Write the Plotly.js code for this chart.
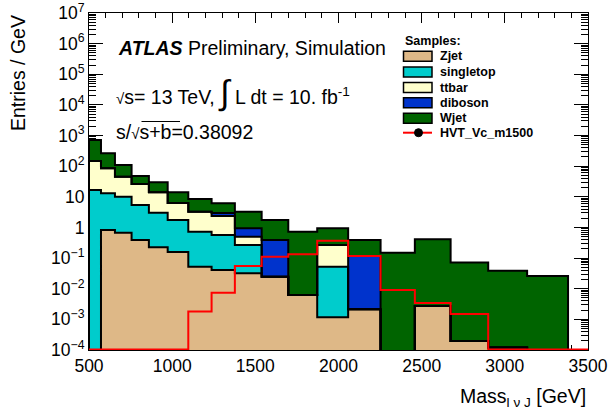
<!DOCTYPE html>
<html><head><meta charset="utf-8">
<script src="https://cdn.plot.ly/plotly-3.0.1.min.js"></script>
<style>html,body{margin:0;padding:0;background:#fff}#plot{width:611px;height:411px}</style>
</head><body><div id="plot"></div>
<script>
// Bin edges (GeV)
const binEdges = [500,572,656,756,860,973,1097,1237,1377,1538,1698,1872,2058,2253,2459,2674,2900,3134,3380,3500];
// Background samples (Entries / GeV)
const zjet      = [0,0.828,0.676,0.39,0.225,0.158,0.0525,0.041,0.032,0.0248,0.00625,0.00117,0.00214,0,0.00274,0.000197,0.00012,0,0];
const singletop = [16.7,12.27,9.42,5.03,2.81,1.59,0.676,0.528,0.236,0,0,0.0513,0,0,0,0,0,0,0];
const ttbar     = [131.3,72.2,35.3,20.8,11.07,4.55,2.54,1.80,0.232,0,0,0.2155,0,0,0,0,0,0,0];
const diboson   = [0,0,0,0,0,0,0,0.60,0.44,0.365,0,0,0.115,0,0,0,0,0,0];
const wjet      = [568,178.7,63.6,21.7,15.7,7.8,5.23,3.18,2.33,1.36,0.722,0.672,0.273,0.150,0.408,0.0718,0.0387,0.026,0];
// Signal
const hvt       = [0,0,0,0,0,0,0.0018,0.0074,0.055,0.11,0.134,0.37,0.117,0.0091,0.0034,0.0015,0,0,0];
const sampleNames = ['Zjet','singletop','ttbar','diboson','Wjet'];
const signalName = 'HVT_Vc_m1500';
const xTicks = [500,1000,1500,2000,2500,3000,3500];
const yTickExp = [-4,-3,-2,-1,0,1,2,3,4,5,6,7];

const colors = ['#DEB887','#00CCCC','#FFFFCC','#0033CC','#006400'];
const series = [zjet,singletop,ttbar,diboson,wjet];
const nb = binEdges.length-1;
const centers=[],widths=[];
for(let i=0;i<nb;i++){centers.push((binEdges[i]+binEdges[i+1])/2);widths.push(binEdges[i+1]-binEdges[i]);}

const traces=[];
series.forEach((s,k)=>{
  traces.push({type:'bar',x:centers,y:s,width:widths,name:sampleNames[k],
    marker:{color:colors[k],line:{width:0}},showlegend:false,hoverinfo:'skip'});
});
// step outlines of cumulative sums
function stepTrace(vals,floor,color,w){
  const xs=[binEdges[0]],ys=[floor];
  for(let i=0;i<nb;i++){xs.push(binEdges[i]);ys.push(Math.max(vals[i],floor));}
  xs.push(binEdges[nb]);ys.push(Math.max(vals[nb-1],floor));
  xs.push(binEdges[nb]);ys.push(floor);
  return {type:'scatter',mode:'lines',x:xs,y:ys,line:{shape:'hv',color:color,width:w},showlegend:false,hoverinfo:'skip'};
}
let cum=new Array(nb).fill(0);
const cums=[];
series.forEach(s=>{cum=cum.map((c,i)=>c+s[i]);cums.push(cum.slice());});
for(let k=cums.length-1;k>=0;k--){traces.push(stepTrace(cums[k],1e-6,'black',2));}
traces.push(stepTrace(hvt,1.04e-4,'#FF0000',2));

// pixel helpers (plot area 89..588 x 13..350)
const L=89,R=588,T=13,B=350;
const px=x=>(x-L)/(R-L), py=y=>(B-y)/(B-T);
const FONT='Liberation Sans, Arial, Helvetica, sans-serif';

const shapes=[],ann=[];
// legend
ann.push({xref:'paper',yref:'paper',x:px(403),y:py(41),xanchor:'left',yanchor:'middle',showarrow:false,
  text:'<b>Samples:</b>',font:{family:FONT,size:12.5,color:'black'}});
const rowY=[56.3,72,87.5,102.7,118.3];
sampleNames.forEach((n,k)=>{
  shapes.push({type:'rect',xref:'paper',yref:'paper',x0:px(403.5),x1:px(432),y0:py(rowY[k]-5),y1:py(rowY[k]+5),
    fillcolor:colors[k],line:{color:'black',width:1.5}});
  ann.push({xref:'paper',yref:'paper',x:px(438),y:py(rowY[k]),xanchor:'left',yanchor:'middle',showarrow:false,
    text:'<b>'+n+'</b>',font:{family:FONT,size:12.5,color:'black'}});
});
shapes.push({type:'line',xref:'paper',yref:'paper',x0:px(403),x1:px(432),y0:py(132.7),y1:py(132.7),line:{color:'#FF0000',width:2}});
shapes.push({type:'circle',xref:'paper',yref:'paper',x0:px(414.5),x1:px(422.5),y0:py(128.7),y1:py(136.7),fillcolor:'black',line:{color:'black',width:1}});
ann.push({xref:'paper',yref:'paper',x:px(438),y:py(133),xanchor:'left',yanchor:'middle',showarrow:false,
  text:'<b>'+signalName+'</b>',font:{family:FONT,size:12.5,color:'black'}});

// ATLAS labels
ann.push({xref:'paper',yref:'paper',x:px(116),y:py(48),xanchor:'left',yanchor:'middle',showarrow:false,
  text:'<b><i>ATLAS</i></b> Preliminary, Simulation',font:{family:FONT,size:19.5,color:'black'}});
ann.push({xref:'paper',yref:'paper',x:px(114),y:py(92),xanchor:'left',yanchor:'middle',showarrow:false,
  text:'<span style="font-size:15px">√</span>s= 13 TeV, <span style="font-size:34px">∫</span> L dt = 10. fb<sup>-1</sup>',font:{family:FONT,size:19.5,color:'black'}});
ann.push({xref:'paper',yref:'paper',x:px(114),y:py(132),xanchor:'left',yanchor:'middle',showarrow:false,
  text:'s/<span style="font-size:15px">√</span>s+b=0.38092',font:{family:FONT,size:19.5,color:'black'}});
// radical overline over "s+b"
shapes.push({type:'line',xref:'paper',yref:'paper',x0:px(141.5),x1:px(180),y0:py(121.5),y1:py(121.5),line:{color:'black',width:1}});
// axis titles
ann.push({xref:'paper',yref:'paper',x:px(588),y:py(397),xanchor:'right',yanchor:'middle',showarrow:false,
  text:'Mass<sub>l ν J</sub> [GeV]',font:{family:FONT,size:19.5,color:'black'}});
ann.push({xref:'paper',yref:'paper',x:px(18),y:py(13),xanchor:'center',yanchor:'top',textangle:-90,showarrow:false,
  text:'Entries / GeV',font:{family:FONT,size:19.5,color:'black'}});

const yTickVals=yTickExp.map(e=>Math.pow(10,e));
const yTickText=yTickExp.map(e=>e===0?'1':(e===1?'10':'10<sup>'+(e<0?'−'+(-e):e)+'</sup>'));
const yMinor=[];
for(let e=-4;e<7;e++){for(let m=2;m<=9;m++)yMinor.push(m*Math.pow(10,e));}
const xMinor=[];
for(let v=500;v<=3500;v+=100)xMinor.push(v);

const layout={
  width:611,height:411,margin:{l:L,r:611-R,t:T,b:411-B},
  paper_bgcolor:'white',plot_bgcolor:'white',
  barmode:'stack',bargap:0,showlegend:false,
  font:{family:FONT,color:'black'},
  xaxis:{type:'linear',range:[500,3500],tickmode:'array',tickvals:xTicks,ticktext:xTicks.map(String),
    ticks:'inside',ticklen:10,tickwidth:1,tickcolor:'black',showline:true,linecolor:'black',linewidth:1,
    mirror:'allticks',showgrid:false,zeroline:false,layer:'below traces',
    tickfont:{family:FONT,size:17.5,color:'black'},
    minor:{tickmode:'array',tickvals:xMinor,ticks:'inside',ticklen:5,tickwidth:1,tickcolor:'black',showgrid:false}},
  yaxis:{type:'log',range:[-4,7],tickmode:'array',tickvals:yTickVals,ticktext:yTickText,
    ticks:'inside',ticklen:14,tickwidth:1,tickcolor:'black',showline:true,linecolor:'black',linewidth:1,
    mirror:'allticks',showgrid:false,zeroline:false,layer:'below traces',
    tickfont:{family:FONT,size:17.5,color:'black'},
    minor:{tickmode:'array',tickvals:yMinor,ticks:'inside',ticklen:7,tickwidth:1,tickcolor:'black',showgrid:false}},
  shapes:shapes,annotations:ann
};
Plotly.newPlot('plot',traces,layout,{staticPlot:true,displayModeBar:false});
</script></body></html>
